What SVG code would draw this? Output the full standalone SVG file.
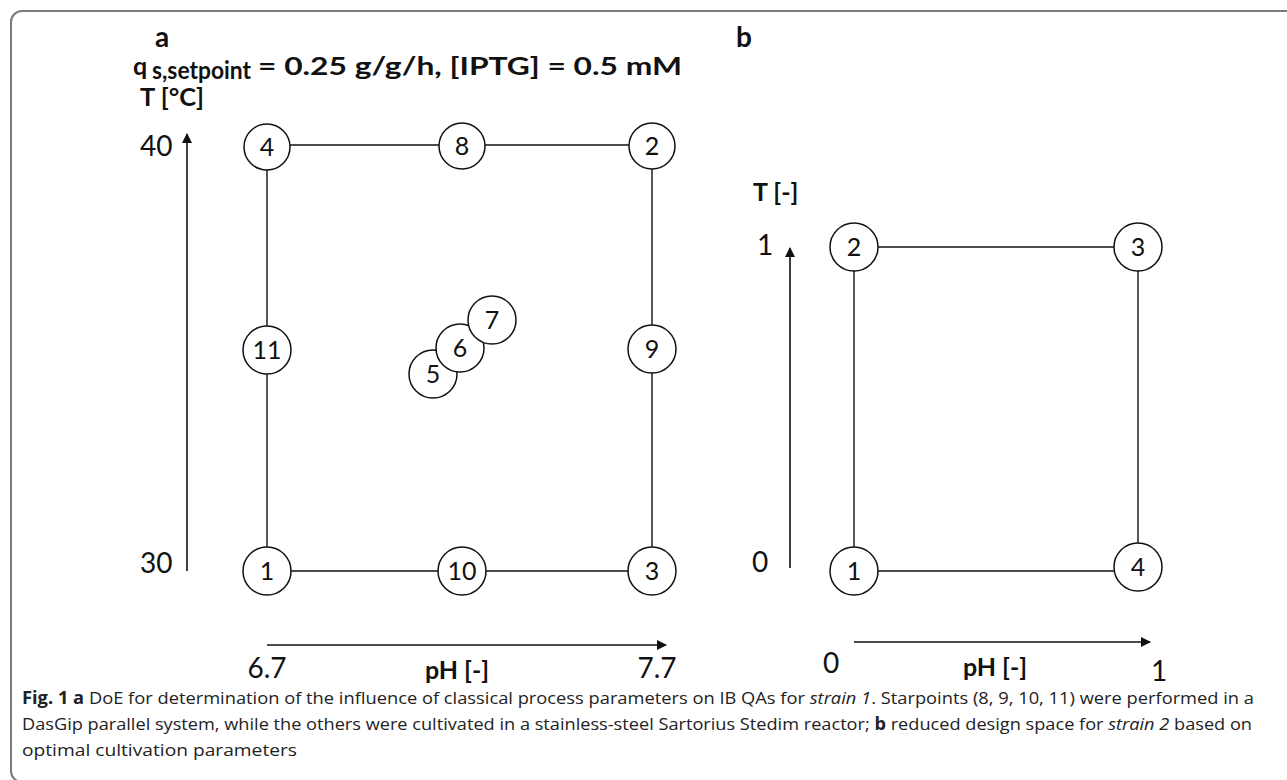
<svg xmlns="http://www.w3.org/2000/svg" width="1287" height="780" viewBox="0 0 1287 780">
  <style>
    .node circle { fill: #fff; stroke: #111; stroke-width: 1.5; }
    .node text { font-family: Lato, "Open Sans", "Liberation Sans", sans-serif; font-size: 25px; fill: #111; text-anchor: middle; }
    .edge { stroke: #111; stroke-width: 1.4; fill: none; }
    .axis { stroke: #111; stroke-width: 1.6; fill: none; }
    .num { font-family: Lato, "Open Sans", "Liberation Sans", sans-serif; font-size: 28px; fill: #111; }
    .lbl { font-family: Lato, "Open Sans", "Liberation Sans", sans-serif; font-weight: bold; font-size: 25px; fill: #111; }
    .panel { font-family: Lato, "Open Sans", "Liberation Sans", sans-serif; font-weight: bold; font-size: 28px; fill: #111; }
    .cap { font-family: "Open Sans", "Liberation Sans", sans-serif; font-size: 17px; fill: #222; }
  </style>
  <defs>
    <marker id="arrow" viewBox="0 0 10 10" refX="9" refY="5" markerWidth="10" markerHeight="10" markerUnits="userSpaceOnUse" orient="auto">
      <path d="M0,0 L10,5 L0,10 Z" fill="#111"/>
    </marker>
  </defs>

  <rect width="1287" height="780" fill="#fff"/>
  <!-- figure frame -->
  <rect x="11" y="11" width="1300" height="771" rx="11" fill="none" stroke="#7a7a7a" stroke-width="2"/>

  <!-- panel letters and headings -->
  <text class="panel" x="155" y="47">a</text>
  <text class="panel" x="736" y="47">b</text>
  <text class="lbl" x="133" y="75" font-size="26">q</text>
  <text class="lbl" x="152" y="79" font-size="15" textLength="99" lengthAdjust="spacingAndGlyphs">s,setpoint</text>
  <text class="lbl" x="258" y="75" font-size="24" textLength="424" lengthAdjust="spacingAndGlyphs">= 0.25 g/g/h, [IPTG] = 0.5 mM</text>

  <!-- axis labels, panel a -->
  <text class="lbl" x="140" y="106" font-size="26" textLength="64" lengthAdjust="spacingAndGlyphs">T [°C]</text>
  <text class="num" x="140" y="156">40</text>
  <text class="num" x="140" y="573">30</text>
  <text class="num" x="267" y="678" text-anchor="middle">6.7</text>
  <text class="lbl" x="457" y="679" text-anchor="middle">pH [-]</text>
  <text class="num" x="657" y="678" text-anchor="middle">7.7</text>

  <!-- axis labels, panel b -->
  <text class="lbl" x="753" y="201" font-size="26">T [-]</text>
  <text class="num" x="757" y="255">1</text>
  <text class="num" x="752" y="572">0</text>
  <text class="num" x="831" y="673" text-anchor="middle">0</text>
  <text class="lbl" x="995" y="676" text-anchor="middle">pH [-]</text>
  <text class="num" x="1159" y="681" text-anchor="middle">1</text>

  <g id="axes">
    <line class="axis" x1="187" y1="571" x2="187" y2="134" marker-end="url(#arrow)"/>
    <line class="axis" x1="267" y1="645" x2="666" y2="645" marker-end="url(#arrow)"/>
    <line class="axis" x1="790" y1="568" x2="790" y2="248" marker-end="url(#arrow)"/>
    <line class="axis" x1="854" y1="642" x2="1150" y2="642" marker-end="url(#arrow)"/>
  </g>

  <!-- connectors -->
  <g id="connectors">
    <line class="edge" x1="267" y1="145" x2="652" y2="145"/>
    <line class="edge" x1="267" y1="571" x2="652" y2="571"/>
    <line class="edge" x1="267" y1="145" x2="267" y2="571"/>
    <line class="edge" x1="652" y1="145" x2="652" y2="571"/>
    <line class="edge" x1="854" y1="247" x2="1138" y2="247"/>
    <line class="edge" x1="854" y1="571" x2="1138" y2="571"/>
    <line class="edge" x1="854" y1="247" x2="854" y2="571"/>
    <line class="edge" x1="1138" y1="247" x2="1138" y2="567"/>
  </g>

  <!-- design points, panel a -->
  <g id="a-node-4" class="node"><circle cx="267" cy="147" r="23"/><text x="267" y="156">4</text></g>
  <g id="a-node-8" class="node"><circle cx="462" cy="146" r="23"/><text x="462" y="155">8</text></g>
  <g id="a-node-2" class="node"><circle cx="652" cy="146" r="23"/><text x="652" y="155">2</text></g>
  <g id="a-node-11" class="node"><circle cx="267" cy="350" r="24"/><text x="267" y="359">11</text></g>
  <g id="a-node-9" class="node"><circle cx="652" cy="349" r="24"/><text x="652" y="358">9</text></g>
  <g id="a-node-1" class="node"><circle cx="267" cy="571" r="24"/><text x="267" y="580">1</text></g>
  <g id="a-node-10" class="node"><circle cx="462" cy="571" r="24"/><text x="462" y="580">10</text></g>
  <g id="a-node-3" class="node"><circle cx="652" cy="571" r="24"/><text x="652" y="580">3</text></g>
  <g id="a-node-5" class="node"><circle cx="433" cy="374" r="24"/><text x="433" y="383">5</text></g>
  <g id="a-node-6" class="node"><circle cx="460" cy="348" r="24"/><text x="460" y="357">6</text></g>
  <g id="a-node-7" class="node"><circle cx="492" cy="320" r="24"/><text x="492" y="329">7</text></g>

  <!-- design points, panel b -->
  <g id="b-node-2" class="node"><circle cx="854" cy="247" r="24"/><text x="854" y="256">2</text></g>
  <g id="b-node-3" class="node"><circle cx="1138" cy="247" r="24"/><text x="1138" y="256">3</text></g>
  <g id="b-node-1" class="node"><circle cx="854" cy="571" r="24"/><text x="854" y="580">1</text></g>
  <g id="b-node-4" class="node"><circle cx="1138" cy="567" r="24"/><text x="1138" y="576">4</text></g>

  <!-- caption -->
  <text class="cap" x="22" y="704" textLength="1232" lengthAdjust="spacingAndGlyphs"><tspan font-weight="bold">Fig. 1  a</tspan> DoE for determination of the influence of classical process parameters on IB QAs for <tspan font-style="italic">strain 1</tspan>. Starpoints (8, 9, 10, 11) were performed in a</text>
  <text class="cap" x="22" y="730" textLength="1230" lengthAdjust="spacingAndGlyphs">DasGip parallel system, while the others were cultivated in a stainless-steel Sartorius Stedim reactor; <tspan font-weight="bold">b</tspan> reduced design space for <tspan font-style="italic">strain 2</tspan> based on</text>
  <text class="cap" x="22" y="756" textLength="275" lengthAdjust="spacingAndGlyphs">optimal cultivation parameters</text>
</svg>
